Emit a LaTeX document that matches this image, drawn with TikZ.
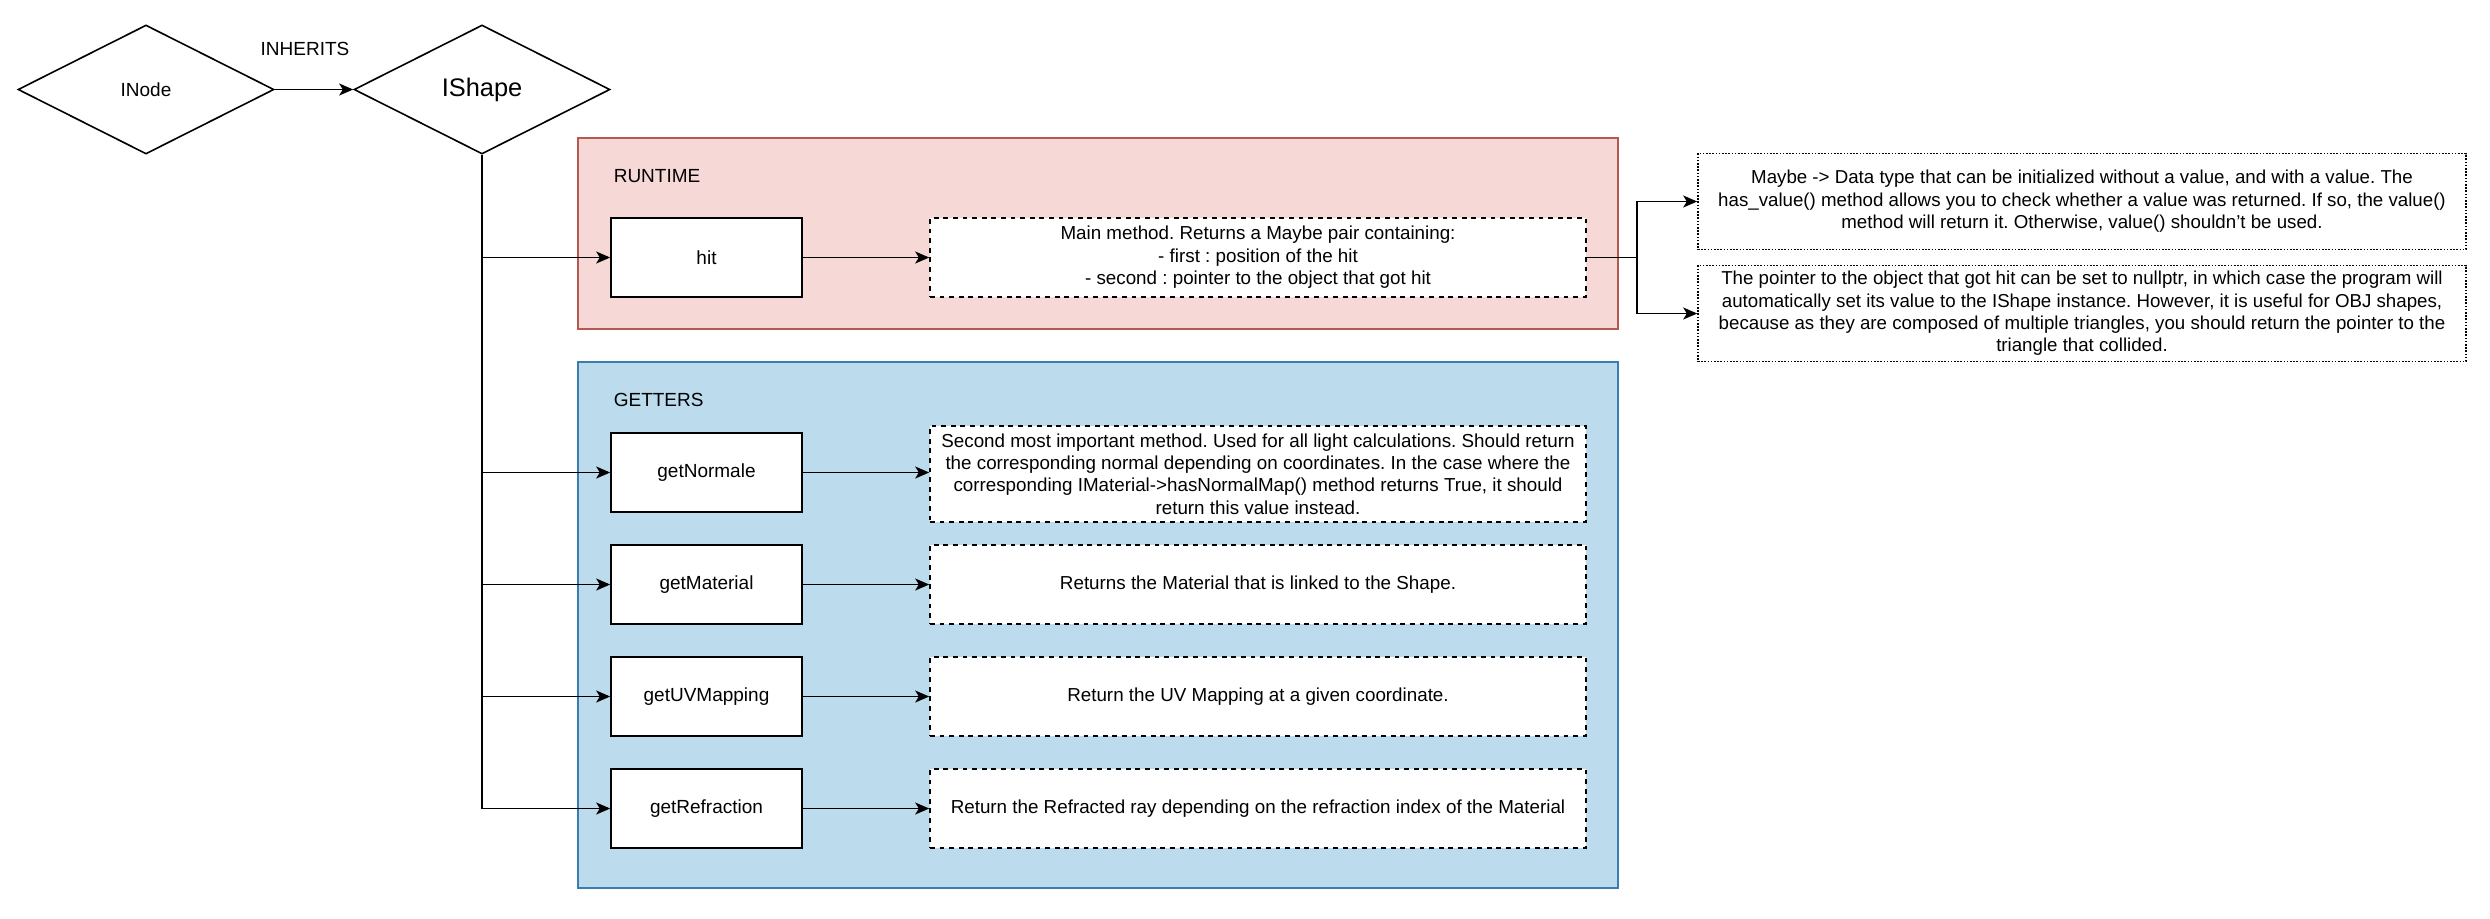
\documentclass[tikz,border=0pt]{standalone}
\usepackage{fontspec}
\setmainfont{Liberation Sans}
\usetikzlibrary{shapes.geometric,arrows.meta}
\definecolor{runfill}{HTML}{F6D9D6}
\definecolor{runline}{HTML}{B5584F}
\definecolor{getfill}{HTML}{BCDCEE}
\definecolor{getline}{HTML}{3A7DB0}
\frenchspacing

\begin{document}
\begin{tikzpicture}
  [x=0.5pt,y=-0.5pt,line width=0.8pt,
   every node/.style={font=\fontsize{9.5}{11.2}\selectfont,align=center,inner sep=0pt},
   iface/.style={diamond,draw,minimum width=128pt,minimum height=64.5pt},
   panel/.style={draw,minimum width=520pt},
   method/.style={draw,fill=white,minimum width=95.5pt,minimum height=39.5pt},
   note/.style={draw,fill=white,dash pattern=on 2.4pt off 2.4pt,font=\fontsize{9.4}{11.2}\selectfont,minimum width=328pt,minimum height=39.5pt},
   remark/.style={draw,fill=white,dash pattern=on 0.8pt off 0.8pt,font=\fontsize{9.35}{11.2}\selectfont,minimum width=384pt,minimum height=48pt},
   link/.style={-{Stealth[length=7pt,width=6pt,inset=1.8pt]}}]
  \useasboundingbox (0,0) rectangle (2490,918);

  \node[iface] (inode) at (146,89.5) {INode};
  \node[iface,font=\fontsize{12.7}{15}\selectfont] (ishape) at (482,89.5) {IShape};
  \node (inherits) at (305,49) {INHERITS};

  \node[panel,fill=runfill,draw=runline,minimum height=95.5pt] (runtime) at (1098,233.5) {};
  \node[anchor=west] (runtimelbl) at (613,176) {RUNTIME};
  \node[method] (hit) at (706.5,257.5) {hit};
  \node[note] (hitnote) at (1258,257.5) {Main method. Returns a Maybe pair containing:\\- first : position of the hit\\- second : pointer to the object that got hit};

  \node[remark] (maybe) at (2082,201.5) {Maybe -> Data type that can be initialized without a value, and with a value. The\\has\_value() method allows you to check whether a value was returned. If so, the value()\\method will return it. Otherwise, value() shouldn't be used.};
  \node[remark] (pointer) at (2082,313.5) {The pointer to the object that got hit can be set to nullptr, in which case the program will\\automatically set its value to the IShape instance. However, it is useful for OBJ shapes,\\because as they are composed of multiple triangles, you should return the pointer to the\\triangle that collided.};

  \node[panel,fill=getfill,draw=getline,minimum height=263pt] (getters) at (1098,625) {};
  \node[anchor=west] (getterslbl) at (613,400) {GETTERS};
  \node[method] (normale) at (706.5,472.5) {getNormale};
  \node[note,minimum height=48pt] (normalenote) at (1258,474) {Second most important method. Used for all light calculations. Should return\\the corresponding normal depending on coordinates. In the case where the\\corresponding IMaterial->hasNormalMap() method returns True, it should\\return this value instead.};
  \node[method] (material) at (706.5,584.5) {getMaterial};
  \node[note] (materialnote) at (1258,584.5) {Returns the Material that is linked to the Shape.};
  \node[method] (uvmap) at (706.5,696.5) {getUVMapping};
  \node[note] (uvmapnote) at (1258,696.5) {Return the UV Mapping at a given coordinate.};
  \node[method] (refraction) at (706.5,808.5) {getRefraction};
  \node[note] (refractionnote) at (1258,808.5) {Return the Refracted ray depending on the refraction index of the Material};

  \draw[link] (inode.east) -- (ishape.west);
  \draw[link] (ishape.south) |- (hit.west);
  \draw[link] (ishape.south) |- (normale.west);
  \draw[link] (ishape.south) |- (material.west);
  \draw[link] (ishape.south) |- (uvmap.west);
  \draw[link] (ishape.south) |- (refraction.west);

  \draw[link] (hit) -- (hitnote);
  \draw[link] (normale) -- (normalenote.west |- normale);
  \draw[link] (material) -- (materialnote);
  \draw[link] (uvmap) -- (uvmapnote);
  \draw[link] (refraction) -- (refractionnote);

  \draw[link] (hitnote.east) -- ++(50,0) |- (maybe.west);
  \draw[link] (hitnote.east) -- ++(50,0) |- (pointer.west);
\end{tikzpicture}
\end{document}
